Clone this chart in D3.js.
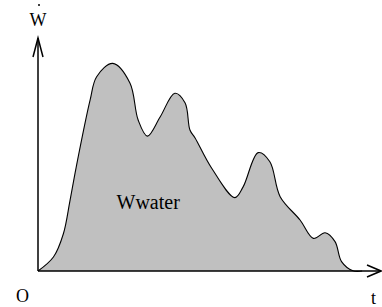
<!DOCTYPE html>
<html>
<head>
<meta charset="utf-8">
<script src="https://d3js.org/d3.v7.min.js"></script>
<style>
  body { margin: 0; background: #fff; }
  text { font-family: "Liberation Serif", "Times New Roman", serif; fill: #000; }
</style>
</head>
<body>
<div id="my_dataviz"></div>
<script>

// the water power curve (t and W in 0..100 units)
var tValues = [0, 4.5, 7.4, 9.3, 11.1, 15.2, 17.1, 21.8, 26.8, 29.2, 31.9, 35.6, 39.9, 42.9, 44.3, 45.8,
               50.6, 57.4, 59.8, 64.2, 67.6, 70.6, 76.4, 80.3, 83.7, 86.6, 88.5, 91.8, 94.5];
var wValues = [0, 6.0, 16.0, 30.0, 44.3, 73.4, 83.4, 89.1, 80.7, 64.8, 57.9, 66.1, 76.3, 72.1, 60.5, 57.1,
               44.2, 31.5, 36.1, 50.8, 46.9, 31.9, 21.9, 14.0, 16.4, 12.6, 4.0, 0.1, 0];

var axisLabels = ["O", "t"];
var areaLabel = "Wwater";

var width = 382, height = 307;

var svg = d3.select("#my_dataviz")
  .append("svg")
    .attr("width", width)
    .attr("height", height);

// scales
var x = d3.scaleLinear().domain([0, 100]).range([38, 381]);
var y = d3.scaleLinear().domain([0, 100]).range([271, 38]);

var data = tValues.map(function(t, i) { return {t: t, w: wValues[i]}; });

// the shaded area under the curve
var area = d3.area()
  .x(function(d) { return x(d.t); })
  .y0(y(0))
  .y1(function(d) { return y(d.w); })
  .curve(d3.curveCatmullRom.alpha(0.5));

svg.append("path")
  .datum(data)
  .attr("d", area)
  .attr("fill", "#c0c0c0")
  .attr("stroke", "none");

var line = d3.line()
  .x(function(d) { return x(d.t); })
  .y(function(d) { return y(d.w); })
  .curve(d3.curveCatmullRom.alpha(0.5));

svg.append("path")
  .datum(data)
  .attr("d", line)
  .attr("fill", "none")
  .attr("stroke", "#000")
  .attr("stroke-width", 1.1);

// axes with open arrow heads
var axes = svg.append("g")
  .attr("stroke", "#000")
  .attr("stroke-width", 1.5)
  .attr("fill", "none");

axes.append("line")
  .attr("x1", x(0)).attr("y1", y(0))
  .attr("x2", x(100)).attr("y2", y(0));
axes.append("line")
  .attr("x1", x(0)).attr("y1", y(0))
  .attr("x2", x(0)).attr("y2", y(100));

axes.append("path")
  .attr("d", "M" + (x(100) - 14) + "," + (y(0) - 6) + "L" + x(100) + "," + y(0) + "L" + (x(100) - 14) + "," + (y(0) + 6));
axes.append("path")
  .attr("d", "M" + (x(0) - 5) + "," + (y(100) + 19) + "L" + x(0) + "," + y(100) + "L" + (x(0) + 5) + "," + (y(100) + 19));

// labels
svg.append("text")
  .attr("x", x(0))
  .attr("y", 26)
  .attr("text-anchor", "middle")
  .style("font-size", "18px")
  .text("W");
svg.append("circle")
  .attr("cx", x(0) + 1)
  .attr("cy", 5)
  .attr("r", 1)
  .attr("fill", "#000");

svg.append("text")
  .attr("x", 16)
  .attr("y", 302)
  .style("font-size", "18px")
  .text(axisLabels[0]);

svg.append("text")
  .attr("x", 371)
  .attr("y", 304)
  .style("font-size", "18px")
  .text(axisLabels[1]);

svg.append("text")
  .attr("x", x(22.9))
  .attr("y", y(26.6))
  .style("font-size", "20px")
  .text(areaLabel);

</script>
</body>
</html>
